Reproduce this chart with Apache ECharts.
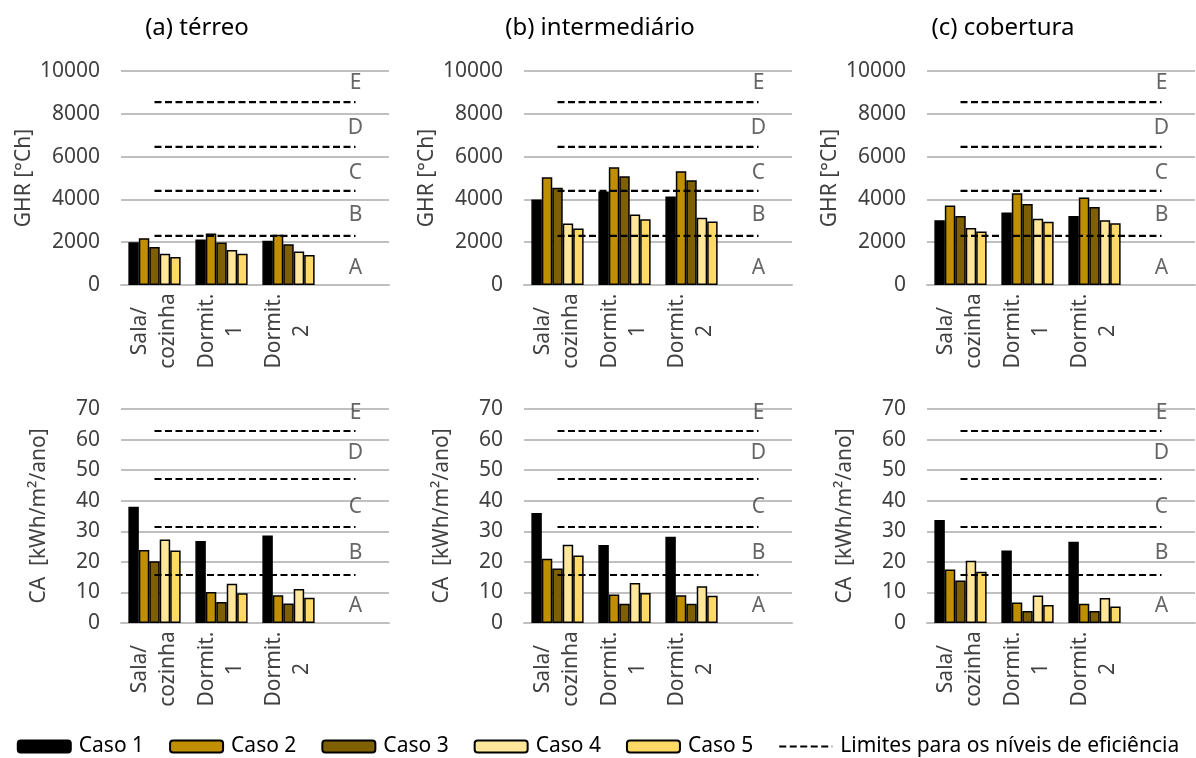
<!DOCTYPE html>
<html><head><meta charset="utf-8">
<script src="https://cdn.jsdelivr.net/npm/echarts@6/dist/echarts.min.js"></script>
<style>html,body{margin:0;padding:0;background:#fff}#c{width:1196px;height:758px}</style>
</head><body><div id="c"></div>
<script>
const categories = ['Sala/\ncozinha', 'Dormit.\n1', 'Dormit.\n2', ''];
const caseNames = ['Caso 1', 'Caso 2', 'Caso 3', 'Caso 4', 'Caso 5'];
const limitName = 'Limites para os níveis de eficiência';
const panelTitles = ['(a) térreo', '(b) intermediário', '(c) cobertura'];
const ghrAxisName = 'GHR [°Ch]';
const caAxisName = 'CA  [kWh/m²/ano]';

// GHR [°Ch] per case (rows) and room (Sala/cozinha, Dormit. 1, Dormit. 2)
const ghrTerreo = [[2000, 2130, 2070], [2190, 2410, 2350], [1770, 1990, 1910], [1460, 1630, 1570], [1310, 1460, 1400]];
const ghrIntermediario = [[4000, 4370, 4130], [5030, 5500, 5310], [4550, 5080, 4890], [2870, 3290, 3140], [2640, 3070, 2970]];
const ghrCobertura = [[3030, 3390, 3230], [3720, 4290, 4090], [3230, 3790, 3650], [2660, 3090, 3030], [2500, 2950, 2880]];

// CA [kWh/m²/ano]
const caTerreo = [[38.0, 26.8, 28.6], [23.9, 10.1, 9.1], [20.2, 6.9, 6.4], [27.3, 12.8, 11.1], [23.7, 9.7, 8.3]];
const caIntermediario = [[36.0, 25.5, 28.2], [21.0, 9.3, 9.1], [17.8, 6.3, 6.3], [25.6, 13.1, 12.0], [22.1, 9.8, 8.9]];
const caCobertura = [[33.7, 23.7, 26.6], [17.5, 6.7, 6.3], [13.9, 3.9, 3.9], [20.4, 9.0, 8.2], [16.8, 5.9, 5.4]];

// efficiency level limits
const ghrLimits = [2300, 4400, 6450, 8550];
const caLimits = [15.7, 31.4, 47.1, 62.8];
const levelLetters = ['A', 'B', 'C', 'D', 'E'];
const ghrLetterValues = [800, 3250, 5250, 7330, 9450];
const caLetterValues = [5.4, 22.9, 38.1, 55.6, 68.7];

const ghrTicks = {min: 0, max: 10000, interval: 2000};
const caTicks = {min: 0, max: 70, interval: 10};

const caseColors = ['#000000', '#BF8F00', '#7F6000', '#FFE699', '#FFD966'];
const FONT = 'Noto Sans';
const TXT = '#404040';

const panelLefts = [121, 524, 927];
const panelWidth = 268;
const rowTops = [71, 409];
const panelHeight = 214;

const panels = [
  {row: 0, col: 0, data: ghrTerreo, limits: ghrLimits, letters: ghrLetterValues, ticks: ghrTicks, name: ghrAxisName, gap: 86},
  {row: 0, col: 1, data: ghrIntermediario, limits: ghrLimits, letters: ghrLetterValues, ticks: ghrTicks, name: ghrAxisName, gap: 86},
  {row: 0, col: 2, data: ghrCobertura, limits: ghrLimits, letters: ghrLetterValues, ticks: ghrTicks, name: ghrAxisName, gap: 86},
  {row: 1, col: 0, data: caTerreo, limits: caLimits, letters: caLetterValues, ticks: caTicks, name: caAxisName, gap: 71},
  {row: 1, col: 1, data: caIntermediario, limits: caLimits, letters: caLetterValues, ticks: caTicks, name: caAxisName, gap: 71},
  {row: 1, col: 2, data: caCobertura, limits: caLimits, letters: caLetterValues, ticks: caTicks, name: caAxisName, gap: 71}
];

const grid = [], xAxis = [], yAxis = [], series = [];
panels.forEach((p, i) => {
  grid.push({left: panelLefts[p.col], top: rowTops[p.row], width: panelWidth, height: panelHeight, containLabel: false});
  xAxis.push({
    type: 'category', gridIndex: i, data: categories,
    axisLine: {lineStyle: {color: '#BFBFBF', width: 2}},
    axisTick: {show: false},
    axisLabel: {rotate: 90, interval: 0, margin: 46, align: 'center', verticalAlign: 'middle',
      fontFamily: FONT, fontSize: 21, color: TXT, lineHeight: 28}
  });
  yAxis.push({
    type: 'value', gridIndex: i, min: p.ticks.min, max: p.ticks.max, interval: p.ticks.interval,
    name: p.name, nameLocation: 'middle', nameGap: p.gap, nameRotate: 90,
    nameTextStyle: {fontFamily: FONT, fontSize: 21, color: TXT},
    axisLine: {show: false}, axisTick: {show: false},
    axisLabel: {margin: 21, fontFamily: FONT, fontSize: 21, color: TXT, formatter: v => String(v)},
    splitLine: {lineStyle: {color: '#C0C0C0', width: 2}}
  });
  p.data.forEach((vals, k) => {
    series.push({
      name: caseNames[k], type: 'bar', xAxisIndex: i, yAxisIndex: i, data: vals,
      barGap: '0%', barCategoryGap: '22%',
      itemStyle: {color: caseColors[k], borderColor: '#000', borderWidth: 1.5},
      emphasis: {disabled: true}, z: 2
    });
  });
  p.limits.forEach(v => {
    series.push({
      name: limitName, type: 'line', xAxisIndex: i, yAxisIndex: i,
      data: categories.map(() => v), symbol: 'none', silent: true,
      lineStyle: {color: '#000', width: 2.2, type: [7, 3.5]}, itemStyle: {color: '#000'}, z: 5
    });
  });
  series.push({
    name: 'níveis', type: 'scatter', xAxisIndex: i, yAxisIndex: i, symbolSize: 0, silent: true,
    data: p.letters.map((v, j) => ({value: [3, v], letter: levelLetters[j]})),
    label: {show: true, position: 'inside', formatter: d => d.data.letter, fontFamily: FONT, fontSize: 21, color: TXT},
    z: 6
  });
});

const title = panelTitles.map((t, c) => ({
  text: t, left: panelLefts[c] + panelWidth / 2 - 63, top: 11, textAlign: 'center',
  textStyle: {fontFamily: FONT, fontSize: 24, fontWeight: 'normal', color: '#000'}
}));

const legendData = caseNames.map(n => ({name: n})).concat([
  {name: limitName, itemStyle: {opacity: 0}}
]);

const chart = echarts.init(document.getElementById('c'), null, {renderer: 'canvas'});
chart.setOption({
  animation: false,
  backgroundColor: '#fff',
  title,
  grid, xAxis, yAxis, series,
  legend: {
    data: legendData,
    left: 'center', top: 736, padding: 0, itemWidth: 53, itemHeight: 12, itemGap: 25,
    textStyle: {fontFamily: FONT, fontSize: 21, color: '#000', padding: [0, 0, 0, 3]},
    selectedMode: false
  }
});
</script>
</body></html>
